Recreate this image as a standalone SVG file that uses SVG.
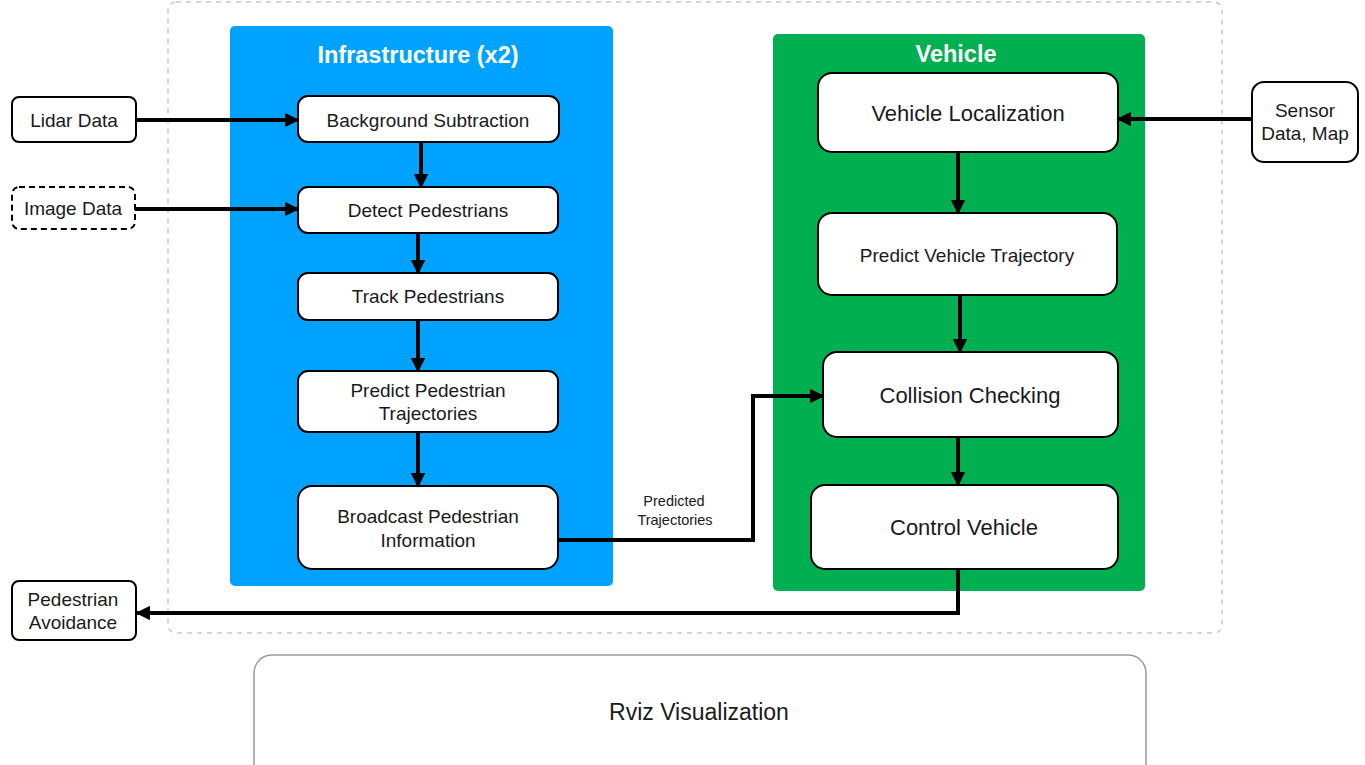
<svg xmlns="http://www.w3.org/2000/svg" width="1365" height="765" viewBox="0 0 1365 765">
  <style>
    .node { fill: #ffffff; stroke: #000000; stroke-width: 2; }
    .dash { stroke-dasharray: 6 4; }
    .lbl { font-family: "Liberation Sans", Arial, sans-serif; fill: #1a1a1a; text-anchor: middle; dominant-baseline: central; }
    .s19 { font-size: 19px; }
    .s22 { font-size: 22px; }
    .title { font-family: "Liberation Sans", Arial, sans-serif; font-weight: bold; font-size: 23.5px; fill: #ffffff; text-anchor: middle; dominant-baseline: central; }
    .wire { fill: none; stroke: #000000; stroke-width: 4; }
  </style>
  <defs>
    <marker id="arrow" viewBox="0 0 10 10" refX="9" refY="5" markerWidth="4" markerHeight="3.6" orient="auto" markerUnits="strokeWidth">
      <path d="M0,0 L10,5 L0,10 z" fill="#000000"/>
    </marker>
  </defs>
  <rect width="1365" height="765" fill="#ffffff"/>

  <!-- system boundary -->
  <rect x="168" y="2" width="1054" height="631" rx="8" fill="none" stroke="#c8c8c8" stroke-width="1.5" stroke-dasharray="5 5"/>

  <!-- containers -->
  <g id="infrastructure">
    <rect x="230" y="26" width="383" height="560" rx="5" fill="#00a2ff"/>
    <text class="title" x="418" y="55">Infrastructure (x2)</text>
  </g>
  <g id="vehicle">
    <rect x="773" y="34" width="372" height="557" rx="5" fill="#00b050"/>
    <text class="title" x="956" y="54">Vehicle</text>
  </g>

  <!-- inputs / outputs -->
  <g id="lidar-data">
    <rect class="node" x="12" y="97" width="124" height="45" rx="7"/>
    <text class="lbl s19" x="74" y="120">Lidar Data</text>
  </g>
  <g id="image-data">
    <rect class="node dash" x="12" y="187" width="123" height="42" rx="7"/>
    <text class="lbl s19" x="73" y="208">Image Data</text>
  </g>
  <g id="pedestrian-avoidance">
    <rect class="node" x="12" y="581" width="124" height="59" rx="7"/>
    <text class="lbl s19" x="73" y="599">Pedestrian</text>
    <text class="lbl s19" x="73" y="622">Avoidance</text>
  </g>
  <g id="sensor-data-map">
    <rect class="node" x="1252" y="82" width="106" height="80" rx="12"/>
    <text class="lbl s19" x="1305" y="110">Sensor</text>
    <text class="lbl s19" x="1305" y="133">Data, Map</text>
  </g>

  <!-- infrastructure pipeline -->
  <g id="background-subtraction">
    <rect class="node" x="298" y="96" width="261" height="46" rx="10"/>
    <text class="lbl s19" x="428" y="120">Background Subtraction</text>
  </g>
  <g id="detect-pedestrians">
    <rect class="node" x="298" y="187" width="260" height="46" rx="10"/>
    <text class="lbl s19" x="428" y="210">Detect Pedestrians</text>
  </g>
  <g id="track-pedestrians">
    <rect class="node" x="298" y="273" width="260" height="47" rx="10"/>
    <text class="lbl s19" x="428" y="296">Track Pedestrians</text>
  </g>
  <g id="predict-pedestrian-trajectories">
    <rect class="node" x="298" y="371" width="260" height="61" rx="10"/>
    <text class="lbl s19" x="428" y="390">Predict Pedestrian</text>
    <text class="lbl s19" x="428" y="413">Trajectories</text>
  </g>
  <g id="broadcast-pedestrian-information">
    <rect class="node" x="298" y="486" width="260" height="83" rx="14"/>
    <text class="lbl s19" x="428" y="516">Broadcast Pedestrian</text>
    <text class="lbl s19" x="428" y="540">Information</text>
  </g>

  <!-- vehicle pipeline -->
  <g id="vehicle-localization">
    <rect class="node" x="818" y="73" width="300" height="79" rx="14"/>
    <text class="lbl s22" x="968" y="113">Vehicle Localization</text>
  </g>
  <g id="predict-vehicle-trajectory">
    <rect class="node" x="818" y="213" width="299" height="82" rx="14"/>
    <text class="lbl s19" x="967" y="255">Predict Vehicle Trajectory</text>
  </g>
  <g id="collision-checking">
    <rect class="node" x="823" y="352" width="295" height="85" rx="14"/>
    <text class="lbl s22" x="970" y="395">Collision Checking</text>
  </g>
  <g id="control-vehicle">
    <rect class="node" x="811" y="485" width="307" height="84" rx="14"/>
    <text class="lbl s22" x="964" y="527">Control Vehicle</text>
  </g>

  <!-- visualization -->
  <g id="rviz-visualization">
    <rect x="254" y="655" width="892" height="125" rx="18" fill="#ffffff" stroke="#9a9a9a" stroke-width="1.5"/>
    <text class="lbl" style="font-size:23px" x="699" y="712">Rviz Visualization</text>
  </g>

  <!-- connectors -->
  <g id="connectors">
    <path class="wire" marker-end="url(#arrow)" d="M136,120 H298"/>
    <path class="wire" marker-end="url(#arrow)" d="M135,209 H298"/>
    <path class="wire" marker-end="url(#arrow)" d="M421,142 V187"/>
    <path class="wire" marker-end="url(#arrow)" d="M418,233 V273"/>
    <path class="wire" marker-end="url(#arrow)" d="M418,320 V371"/>
    <path class="wire" marker-end="url(#arrow)" d="M418,432 V486"/>
    <path class="wire" marker-end="url(#arrow)" d="M559,540 H753 V396 H823"/>
    <path class="wire" marker-end="url(#arrow)" d="M1252,119 H1118"/>
    <path class="wire" marker-end="url(#arrow)" d="M958,152 V213"/>
    <path class="wire" marker-end="url(#arrow)" d="M960,295 V352"/>
    <path class="wire" marker-end="url(#arrow)" d="M958,437 V485"/>
    <path class="wire" marker-end="url(#arrow)" d="M958,569 V613 H137"/>
    <text class="lbl" style="font-size:14.5px" x="674" y="501">Predicted</text>
    <text class="lbl" style="font-size:14.5px" x="675" y="520">Trajectories</text>
  </g>
</svg>
